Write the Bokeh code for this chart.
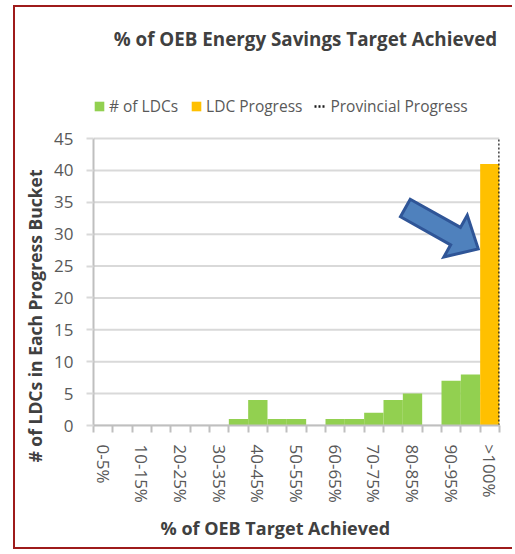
import math
from bokeh.plotting import figure
from bokeh.models import (Range1d, FixedTicker, Legend, LegendItem, Title, Label)
from bokeh.embed import file_html
from bokeh.resources import INLINE

# ---------------- data ----------------
buckets = ["0-5%", "5-10%", "10-15%", "15-20%", "20-25%", "25-30%", "30-35%",
           "35-40%", "40-45%", "45-50%", "50-55%", "55-60%", "60-65%", "65-70%",
           "70-75%", "75-80%", "80-85%", "85-90%", "90-95%", "95-100%", ">100%"]
ldc_counts = [0, 0, 0, 0, 0, 0, 0, 1, 4, 1, 1, 0, 1, 1, 2, 4, 5, 0, 7, 8, 0]
ldc_progress = [0, 0, 0, 0, 0, 0, 0, 0, 0, 0, 0, 0, 0, 0, 0, 0, 0, 0, 0, 0, 41]
provincial_progress_edge = 21.0      # boundary at right of ">100%" bucket
y_ticks = [0, 5, 10, 15, 20, 25, 30, 35, 40, 45]
# arrow annotation (data units): tail -> tip
arrow_tail = (16.13, 34.1)
arrow_tip = (19.9, 27.7)

GRAY_TXT = "#595959"
DARK_TXT = "#404040"
FONT = "Open Sans"

# ---------------- layout (pixels) ----------------
W, H = 499, 544
ML, MR, MT, MB = 78, 15, 13, 126
TOP_ROOM = 118          # band above the top gridline holding title + legend
LEGEND_H = 12
LEGEND_GAP = 21         # legend bottom above the top gridline
TITLE_DX = 212          # title centre from value axis
TITLE_DY = 100          # title centre above the top gridline
FW, FH = W - ML - MR, H - MT - MB
n = len(buckets)
ux_px = FW / n
uy_px = (FH - TOP_ROOM) / (y_ticks[-1] - y_ticks[0])
y_hi = FH / uy_px

x_centers = [i + 0.5 for i in range(n)]

p = figure(width=W, height=H, x_range=Range1d(0, n),
           y_range=Range1d(y_ticks[0], y_hi),
           output_backend="svg", toolbar_location=None,
           min_border_left=ML, min_border_right=MR,
           min_border_top=MT, min_border_bottom=MB)
p.title = None
p.margin = (5, 0, 0, 13)
p.styles = {"border-top": "2px solid #9E1B1B", "border-left": "2px solid #9E1B1B",
            "border-bottom": "2px solid #9E1B1B"}
p.outline_line_color = None
p.background_fill_color = "white"

# horizontal gridlines over the category span
p.segment(x0=[0] * len(y_ticks), x1=[n] * len(y_ticks), y0=y_ticks, y1=y_ticks,
          line_color="#D9D9D9", line_width=2, level="underlay")

# bars
r_green = p.vbar(x=x_centers, top=ldc_counts, width=1.0, fill_color="#92D050",
                 line_color=None)
r_orange = p.vbar(x=x_centers, top=ldc_progress, width=1.0, fill_color="#FFC000",
                  line_color=None)
r_prov = p.line(x=[provincial_progress_edge, provincial_progress_edge],
                y=[y_ticks[0], y_ticks[-1]], line_color="#1a1a1a",
                line_width=2.5, line_dash="2 2")

# block arrow built from tail/tip in pixel space
tx, ty = arrow_tail[0] * ux_px, arrow_tail[1] * uy_px
hx, hy = arrow_tip[0] * ux_px, arrow_tip[1] * uy_px
L = math.hypot(hx - tx, hy - ty)
ux, uy = (hx - tx) / L, (hy - ty) / L
nx, ny = -uy, ux
shaft_half, head_half, head_len = 10.0, 24.0, 26.0
bx, by = hx - ux * head_len, hy - uy * head_len
pts = [(tx + nx * shaft_half, ty + ny * shaft_half),
       (bx + nx * shaft_half, by + ny * shaft_half),
       (bx + nx * head_half, by + ny * head_half),
       (hx, hy),
       (bx - nx * head_half, by - ny * head_half),
       (bx - nx * shaft_half, by - ny * shaft_half),
       (tx - nx * shaft_half, ty - ny * shaft_half)]
p.patch([a / ux_px for a, b in pts], [b / uy_px for a, b in pts],
        fill_color="#4F81BD", line_color="#2F5597", line_width=3,
        line_join="miter")

# x axis
p.xaxis.ticker = FixedTicker(ticks=x_centers[::2], minor_ticks=list(range(n + 1)))
p.xaxis.major_label_overrides = {c: b for c, b in zip(x_centers[::2], buckets[::2])}
p.xaxis.major_label_orientation = "vertical"
p.xaxis.major_tick_out = 0
p.xaxis.major_tick_in = 0
p.xaxis.minor_tick_out = 7
p.xaxis.minor_tick_in = 0
p.xaxis.minor_tick_line_color = "#BFBFBF"
p.xaxis.minor_tick_line_width = 2
p.xaxis.axis_line_color = "#BFBFBF"
p.xaxis.axis_line_width = 2
p.xaxis.major_label_standoff = 12
p.xaxis.major_label_text_font = FONT
p.xaxis.major_label_text_font_size = "17px"
p.xaxis.major_label_text_color = GRAY_TXT
p.xgrid.visible = False
p.ygrid.visible = False

# y axis
p.yaxis.bounds = (y_ticks[0], y_ticks[-1])
p.yaxis.ticker = FixedTicker(ticks=y_ticks, minor_ticks=[])
p.yaxis.major_tick_out = 7
p.yaxis.major_tick_in = 0
p.yaxis.major_tick_line_color = "#D9D9D9"
p.yaxis.major_tick_line_width = 2
p.yaxis.axis_line_color = "#BFBFBF"
p.yaxis.axis_line_width = 2
p.yaxis.major_label_standoff = 13
p.yaxis.major_label_text_font = FONT
p.yaxis.major_label_text_font_size = "17px"
p.yaxis.major_label_text_color = GRAY_TXT

# chart title, in the top band of the frame
p.add_layout(Label(x=TITLE_DX / ux_px, y=y_ticks[-1] + TITLE_DY / uy_px,
                   text="% of OEB Energy Savings Target Achieved",
                   text_align="center", text_baseline="middle",
                   text_font=FONT, text_font_size="18.8px", text_font_style="bold",
                   text_color=DARK_TXT))

# legend in the top band of the frame (location = bottom-left corner, px)
legend = Legend(items=[LegendItem(label="# of LDCs", renderers=[r_green]),
                       LegendItem(label="LDC Progress", renderers=[r_orange]),
                       LegendItem(label="Provincial Progress", renderers=[r_prov])],
                orientation="horizontal",
                location=(0, FH - TOP_ROOM + LEGEND_GAP),
                padding=0, margin=0, spacing=12, glyph_width=LEGEND_H,
                glyph_height=LEGEND_H, label_height=LEGEND_H, label_standoff=4,
                border_line_alpha=0, background_fill_alpha=0,
                label_text_font=FONT, label_text_font_size="15.5px",
                label_text_color=GRAY_TXT)
p.add_layout(legend)

# axis titles
p.add_layout(Title(text="% of OEB Target Achieved", align="left", offset=67,
                   standoff=16, text_font=FONT, text_font_size="18px",
                   text_font_style="bold", text_color=DARK_TXT), "below")
p.add_layout(Title(text="# of LDCs in Each Progress Bucket", align="left",
                   offset=-37, standoff=10, text_font=FONT, text_font_size="17.5px",
                   text_font_style="bold", text_color=DARK_TXT), "left")

open("out.html", "w").write(file_html(p, INLINE))
